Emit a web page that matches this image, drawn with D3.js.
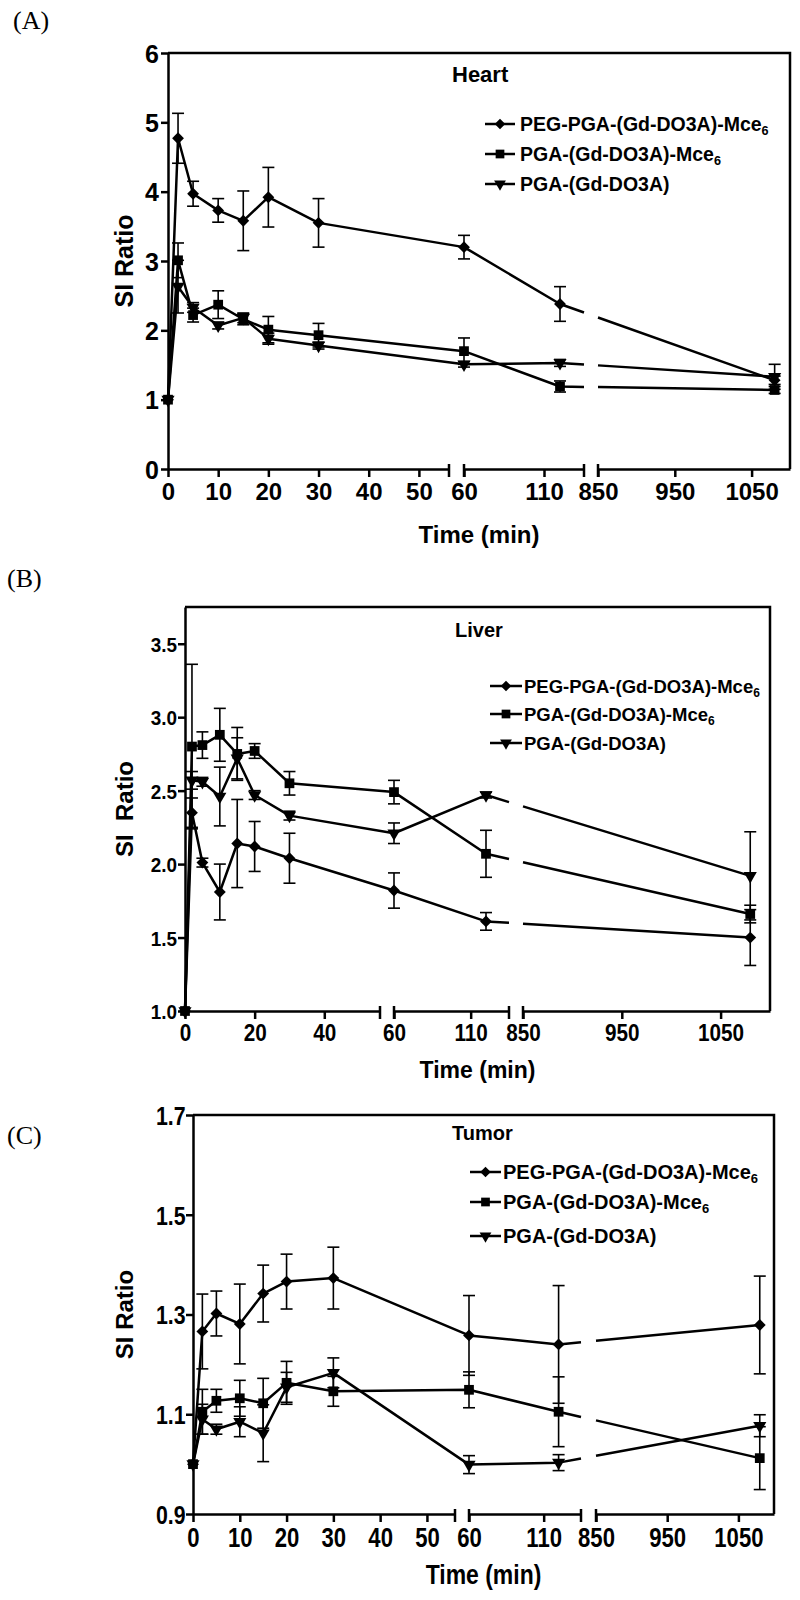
<html>
<head>
  <style>
    body { margin: 0; background: #fff; }
    svg { display: block; }
  </style>
  <script src="https://cdnjs.cloudflare.com/ajax/libs/d3/7.8.5/d3.min.js"></script>
</head>
<body>
  <svg id="main"></svg>
<script>
  // time points (min) shared by the three organs
  const times = [0, 2, 5, 10, 15, 20, 30, 60, 120, 1080]
  // the x axis is broken in three pieces
  const breaks = [[0, 56], [60, 135], [850, 1100]]

  const seriesNames = ["PEG-PGA-(Gd-DO3A)-Mce", "PGA-(Gd-DO3A)-Mce", "PGA-(Gd-DO3A)"]
  const seriesSub = ["6", "6", ""]

  // Heart
  const heartPeg   = [1.0, 4.77, 3.97, 3.73, 3.58, 3.92, 3.55, 3.20, 2.38, 1.28]
  const heartPegSd = [0, 0.36, 0.18, 0.17, 0.43, 0.43, 0.35, 0.17, 0.25, 0.06]
  const heartMce   = [1.0, 3.01, 2.22, 2.37, 2.16, 2.01, 1.93, 1.70, 1.19, 1.14]
  const heartMceSd = [0, 0.25, 0.10, 0.20, 0.08, 0.19, 0.17, 0.19, 0.08, 0.05]
  const heartGd    = [1.0, 2.63, 2.33, 2.07, 2.18, 1.88, 1.78, 1.51, 1.53, 1.33]
  const heartGdSd  = [0, 0.38, 0.07, 0.05, 0.07, 0.08, 0.05, 0.04, 0.05, 0.18]

  // Liver
  const liverPeg   = [1.0, 2.35, 2.01, 1.81, 2.14, 2.12, 2.04, 1.82, 1.61, 1.50]
  const liverPegSd = [0, 0.10, 0.03, 0.19, 0.30, 0.17, 0.17, 0.12, 0.06, 0.19]
  const liverMce   = [1.0, 2.80, 2.81, 2.88, 2.75, 2.77, 2.55, 2.49, 2.07, 1.66]
  const liverMceSd = [0, 0.56, 0.09, 0.18, 0.18, 0.05, 0.08, 0.08, 0.16, 0.06]
  const liverGd    = [1.0, 2.57, 2.56, 2.46, 2.72, 2.47, 2.33, 2.21, 2.47, 1.92]
  const liverGdSd  = [0, 0.06, 0.03, 0.20, 0.14, 0.03, 0.03, 0.07, 0.02, 0.30]

  // Tumor
  const tumorPeg   = [1.0, 1.266, 1.302, 1.281, 1.342, 1.366, 1.373, 1.258, 1.240, 1.279]
  const tumorPegSd = [0, 0.075, 0.045, 0.08, 0.057, 0.055, 0.062, 0.08, 0.118, 0.098]
  const tumorMce   = [1.0, 1.105, 1.127, 1.132, 1.122, 1.163, 1.146, 1.149, 1.105, 1.012]
  const tumorMceSd = [0, 0.045, 0.023, 0.036, 0.05, 0.043, 0.03, 0.036, 0.07, 0.063]
  const tumorGd    = [1.0, 1.09, 1.07, 1.085, 1.062, 1.154, 1.183, 0.999, 1.003, 1.077]
  const tumorGdSd  = [0, 0.03, 0.01, 0.03, 0.057, 0.03, 0.03, 0.018, 0.016, 0.022]

  const heartTicksY = [0, 1, 2, 3, 4, 5, 6]
  const liverTicksY = [1.0, 1.5, 2.0, 2.5, 3.0, 3.5]
  const tumorTicksY = [0.9, 1.1, 1.3, 1.5, 1.7]
  const fullTicksX = [[0, 10, 20, 30, 40, 50], [60, 110], [850, 950, 1050]]
  const liverTicksX = [[0, 20, 40], [60, 110], [850, 950, 1050]]

  const font = "'Liberation Sans', Arial, Helvetica, sans-serif"
  const width = 800
  const height = 1600
  const svg = d3.select("#main").attr("width", width).attr("height", height)

  // marker shapes: diamond, square, down triangle
  const markers = [
    {type: d3.symbolSquare, size: 70, rot: 45},
    {type: d3.symbolSquare, size: 95, rot: 0},
    {type: d3.symbolTriangle, size: 75, rot: 180}
  ]

  const panels = [
    {letter: "(A)", letterX: 13, letterY: 29, organ: "Heart", organX: 452, organY: 82, organFont: 22,
     left: 168, right: 790, top: 53, bottom: 469,
     xr: [[168, 449], [464, 584], [598, 790]], yd: [0, 6], yTicks: heartTicksY, fmt: d3.format("d"),
     xTicks: fullTicksX, tickFont: 24, tickSx: 1, yTickFont: 25, titleFont: 24, titleSx: 1, titleY: 543, yTitleFont: 25, yTitle: "SI Ratio",
     legX: [485, 515], legRows: [124, 154, 184], legTextX: 520, legFont: 19.5,
     series: [[heartPeg, heartPegSd], [heartMce, heartMceSd], [heartGd, heartGdSd]]},
    {letter: "(B)", letterX: 7, letterY: 587, organ: "Liver", organX: 455, organY: 637, organFont: 20,
     left: 185, right: 770, top: 607, bottom: 1011,
     xr: [[185, 380], [394, 509], [523, 770]], yd: [1, 3.75], yTicks: liverTicksY, fmt: d3.format(".1f"),
     xTicks: liverTicksX, tickFont: 23, tickSx: 0.9, yTickFont: 21, titleFont: 23, titleSx: 1, titleY: 1078, yTitleFont: 24, yTitle: "SI  Ratio",
     legX: [490, 522], legRows: [686, 714, 743], legTextX: 524, legFont: 18.5,
     series: [[liverPeg, liverPegSd], [liverMce, liverMceSd], [liverGd, liverGdSd]]},
    {letter: "(C)", letterX: 7, letterY: 1144, organ: "Tumor", organX: 452, organY: 1140, organFont: 20,
     left: 193, right: 774, top: 1115, bottom: 1514,
     xr: [[193, 455], [469, 581], [596, 774]], yd: [0.9, 1.7], yTicks: tumorTicksY, fmt: d3.format(".1f"),
     xTicks: fullTicksX, tickFont: 27, tickSx: 0.82, yTickFont: 26, titleFont: 27, titleSx: 0.85, titleY: 1584, yTitleFont: 24, yTitle: "SI Ratio",
     legX: [470, 501], legRows: [1172, 1202, 1236], legTextX: 503, legFont: 20,
     series: [[tumorPeg, tumorPegSd], [tumorMce, tumorMceSd], [tumorGd, tumorGdSd]]}
  ]

  function drawPanel(p) {
    const g = svg.append("g").attr("font-family", font).attr("font-weight", "bold")

    const segs = breaks.map((dom, i) => d3.scaleLinear().domain(dom).range(p.xr[i]))
    const x = t => {
      const s = segs.find(s => t >= s.domain()[0] && t <= s.domain()[1])
      return s(t)
    }
    const y = d3.scaleLinear().domain(p.yd).range([p.bottom, p.top])

    // panel letter
    svg.append("text")
      .attr("x", p.letterX).attr("y", p.letterY)
      .attr("font-family", "'Liberation Serif', 'Times New Roman', serif")
      .attr("font-size", 26)
      .text(p.letter)

    // frame (top + right)
    g.append("path")
      .attr("d", `M${p.left},${p.top}H${p.right}V${p.bottom}`)
      .attr("fill", "none").attr("stroke", "black").attr("stroke-width", 2.5)

    // y axis
    const yAxis = g.append("g")
      .attr("transform", `translate(${p.left},0)`)
      .call(d3.axisLeft(y).tickValues(p.yTicks).tickFormat(p.fmt).tickSize(7).tickSizeOuter(0).tickPadding(2))
    yAxis.select(".domain").attr("stroke-width", 2.5)
    yAxis.selectAll(".tick line").attr("stroke-width", 2.5)
    yAxis.selectAll(".tick text")
      .attr("font-size", p.yTickFont).attr("font-family", font).attr("font-weight", "bold")
      .attr("fill", "black").attr("dy", "0.36em")
      .attr("transform", `scale(${p.tickSx},1)`)

    // broken x axis
    segs.forEach((s, i) => {
      const ax = g.append("g")
        .attr("transform", `translate(0,${p.bottom})`)
        .call(d3.axisBottom(s).tickValues(p.xTicks[i]).tickFormat(d3.format("d")).tickSize(8).tickSizeOuter(0).tickPadding(6))
      ax.select(".domain").attr("stroke-width", 2.5)
      ax.selectAll(".tick line").attr("stroke-width", 2.5)
      ax.selectAll(".tick text")
        .attr("font-size", p.tickFont).attr("font-family", font).attr("font-weight", "bold")
        .attr("fill", "black")
        .attr("transform", `scale(${p.tickSx},1)`)
      // break marks at segment ends
      s.domain().forEach(v => {
        if (i === 2 && v === s.domain()[1]) return
        if (i === 0 && v === s.domain()[0]) return
        ax.append("line")
          .attr("x1", s(v)).attr("x2", s(v)).attr("y1", -5).attr("y2", 8)
          .attr("stroke", "black").attr("stroke-width", 2.5)
      })
    })

    // axis titles
    const cx = (p.left + p.right) / 2
    g.append("text")
      .attr("transform", `translate(${cx},${p.titleY}) scale(${p.titleSx},1)`)
      .attr("text-anchor", "middle").attr("font-size", p.titleFont)
      .text("Time (min)")

    g.append("text")
      .attr("transform", `translate(133,${(p.top + p.bottom) / 2}) rotate(-90)`)
      .attr("text-anchor", "middle").attr("font-size", p.yTitleFont)
      .attr("xml:space", "preserve")
      .text(p.yTitle)

    g.append("text")
      .attr("x", p.organX).attr("y", p.organY)
      .attr("font-size", p.organFont)
      .text(p.organ)

    // data
    const gapA = p.xr[1][1], gapB = p.xr[2][0]
    const line = d3.line().defined(d => d !== null).x(d => d[0]).y(d => d[1])

    p.series.forEach(([vals, sds], j) => {
      const pts = times.map((t, i) => [x(t), y(vals[i])])
      const a = pts[8], b = pts[9]
      const lerp = gx => [gx, a[1] + (b[1] - a[1]) * (gx - a[0]) / (b[0] - a[0])]
      const path = pts.slice(0, 9).concat([lerp(gapA), null, lerp(gapB), b])

      g.append("path")
        .attr("d", line(path))
        .attr("fill", "none").attr("stroke", "black").attr("stroke-width", 2.5)
        .attr("stroke-linejoin", "round")

      const eb = g.append("g").attr("stroke", "black").attr("stroke-width", 1.6)
      times.forEach((t, i) => {
        if (!sds[i]) return
        const px = x(t), y1 = y(vals[i] + sds[i]), y2 = y(vals[i] - sds[i])
        eb.append("line").attr("x1", px).attr("x2", px).attr("y1", y1).attr("y2", y2)
        eb.append("line").attr("x1", px - 6).attr("x2", px + 6).attr("y1", y1).attr("y2", y1)
        eb.append("line").attr("x1", px - 6).attr("x2", px + 6).attr("y1", y2).attr("y2", y2)
      })

      const m = markers[j]
      g.append("g").selectAll("path")
        .data(pts)
        .join("path")
        .attr("d", d3.symbol().type(m.type).size(m.size))
        .attr("transform", d => `translate(${d[0]},${d[1]}) rotate(${m.rot})`)
        .attr("fill", "black")
    })

    // legend
    seriesNames.forEach((name, j) => {
      const ly = p.legRows[j]
      const m = markers[j]
      g.append("line")
        .attr("x1", p.legX[0]).attr("x2", p.legX[1]).attr("y1", ly).attr("y2", ly)
        .attr("stroke", "black").attr("stroke-width", 2.5)
      g.append("path")
        .attr("d", d3.symbol().type(m.type).size(m.size * 0.8))
        .attr("transform", `translate(${(p.legX[0] + p.legX[1]) / 2},${ly}) rotate(${m.rot})`)
      const t = g.append("text")
        .attr("x", p.legTextX).attr("y", ly + 7)
        .attr("font-size", p.legFont)
      t.append("tspan").text(name)
      if (seriesSub[j]) {
        t.append("tspan").attr("font-size", p.legFont * 0.65).attr("dy", 4).text(seriesSub[j])
      }
    })
  }

  panels.forEach(drawPanel)
</script>
</body>
</html>
